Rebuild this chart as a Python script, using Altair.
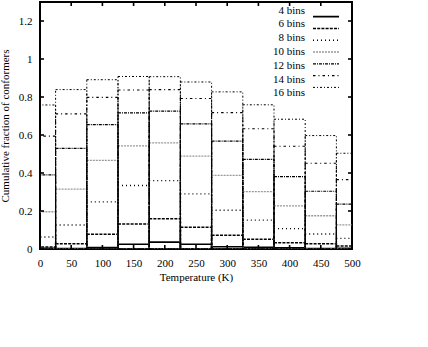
import altair as alt
import pandas as pd

temps = [0, 50, 100, 150, 200, 250, 300, 350, 400, 450, 500]
series_names = ["4 bins", "6 bins", "8 bins", "10 bins", "12 bins", "14 bins", "16 bins"]
bins4 = [0.004, 0.002, 0.007, 0.025, 0.036, 0.025, 0.012, 0.009, 0.006, 0.002, 0.004]
bins6 = [0.011, 0.027, 0.077, 0.131, 0.159, 0.115, 0.072, 0.051, 0.033, 0.027, 0.016]
bins8 = [0.063, 0.126, 0.248, 0.334, 0.360, 0.290, 0.204, 0.152, 0.107, 0.079, 0.056]
bins10 = [0.196, 0.315, 0.466, 0.543, 0.559, 0.489, 0.388, 0.302, 0.227, 0.175, 0.127]
bins12 = [0.390, 0.530, 0.655, 0.716, 0.726, 0.659, 0.568, 0.472, 0.381, 0.304, 0.236]
bins14 = [0.594, 0.711, 0.798, 0.837, 0.839, 0.792, 0.718, 0.633, 0.541, 0.451, 0.365]
bins16 = [0.758, 0.839, 0.891, 0.908, 0.907, 0.879, 0.827, 0.759, 0.683, 0.597, 0.504]
y_ticks = [0, 0.2, 0.4, 0.6, 0.8, 1.0, 1.2]
x_ticks = [0, 50, 100, 150, 200, 250, 300, 350, 400, 450, 500]

all_series = [bins4, bins6, bins8, bins10, bins12, bins14, bins16]
rows = []
for name, vals in zip(series_names, all_series):
    for t, v in zip(temps, vals):
        rows.append({"T": t, "value": v, "series": name})
df = pd.DataFrame(rows)
legend_df = pd.DataFrame({"series": series_names})

FONT = "Liberation Serif"
W, H = 312, 247

xscale = alt.Scale(domain=[0, 500], nice=False)
yscale = alt.Scale(domain=[0, 1.3], nice=False)
x_axis = alt.Axis(values=x_ticks, title="Temperature (K)", tickSize=0, labelOverlap=False,
                  labelFlush=False, labelPadding=8, titlePadding=3, domain=False, grid=False)

colors = ["black", "black", "black", "#999999", "black", "black", "black"]
dashes = [[1, 0], [3, 1.2], [1, 3], [2, 1], [3, 1, 1, 1], [2.5, 3, 1, 3], [2, 2, 1, 2]]
widths = [1.6, 1, 1, 1, 1, 1, 1]

stroke_enc = alt.Stroke("series:N", scale=alt.Scale(domain=series_names, range=colors), legend=None)
dash_enc = alt.StrokeDash("series:N", scale=alt.Scale(domain=series_names, range=dashes), legend=None)
width_enc = alt.StrokeWidth("series:N", scale=alt.Scale(domain=series_names, range=widths), legend=None)

boxes = alt.Chart(df).transform_calculate(
    x0="datum.T - 25", x1="datum.T + 25"
).mark_bar(filled=False, clip=True).encode(
    x=alt.X("x0:Q", scale=xscale, axis=x_axis),
    x2="x1:Q",
    y=alt.Y("value:Q", scale=yscale,
            axis=alt.Axis(values=y_ticks, format="~g", title="Cumulative fraction of conformers",
                          tickSize=0, labelPadding=8, titlePadding=8, domain=False, grid=False,
                          labelOverlap=False, labelFlush=False)),
    y2=alt.datum(0),
    stroke=stroke_enc,
    strokeDash=dash_enc,
    strokeWidth=width_enc,
)

ydf = pd.DataFrame({"v": y_ticks})
xdf = pd.DataFrame({"v": x_ticks})
tl = alt.Chart(ydf).mark_rule(color="black", strokeWidth=1.6).encode(
    y=alt.Y("v:Q", scale=yscale, axis=None), x=alt.value(0), x2=alt.value(4))
tr = alt.Chart(ydf).mark_rule(color="black", strokeWidth=1.6).encode(
    y=alt.Y("v:Q", scale=yscale, axis=None), x=alt.value(W - 4), x2=alt.value(W))
tb = alt.Chart(xdf).mark_rule(color="black", strokeWidth=1.6).encode(
    x=alt.X("v:Q", scale=xscale, axis=x_axis), y=alt.value(H), y2=alt.value(H - 4))
tt = alt.Chart(xdf).mark_rule(color="black", strokeWidth=1.6).encode(
    x=alt.X("v:Q", scale=xscale, axis=x_axis), y=alt.value(0), y2=alt.value(4))

leg_y = alt.Y("series:N", scale=alt.Scale(domain=series_names, range=[8.7, 91.3], padding=0), axis=None)
leg_text = alt.Chart(legend_df).mark_text(
    align="right", baseline="middle", font=FONT, fontSize=11, color="black"
).encode(y=leg_y, x=alt.value(265), text="series:N")
leg_line = alt.Chart(legend_df).mark_rule().encode(
    y=leg_y, x=alt.value(273), x2=alt.value(299),
    stroke=stroke_enc, strokeDash=dash_enc, strokeWidth=width_enc,
)

chart = alt.layer(boxes, tl, tr, tb, tt, leg_text, leg_line).resolve_scale(
    y="independent"
).properties(
    width=W, height=H,
    background="white",
    autosize=alt.AutoSizeParams(type="none"),
    padding={"left": 40, "top": 2, "right": 76, "bottom": 98},
).configure_view(stroke="black", strokeWidth=2).configure_axis(
    labelFont=FONT, labelFontSize=11, labelColor="black",
    titleFont=FONT, titleFontSize=11, titleFontWeight="normal", titleColor="black",
)

chart.save("out.html", embed_options={"renderer": "svg", "actions": False})
